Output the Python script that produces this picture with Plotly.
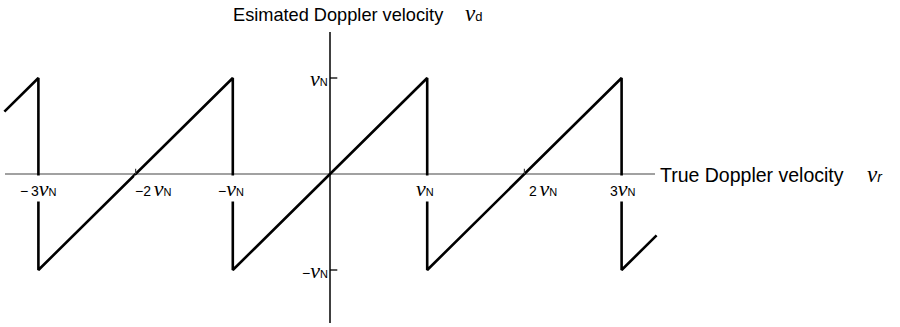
import plotly.graph_objects as go

# Sawtooth breakpoints of estimated vs. true Doppler velocity (units of v_N)
true_v = [-3.35, -3, -3, -1, -1, 1, 1, 3, 3, 3.36]
est_v = [0.65, 1, -1, 1, -1, 1, -1, 1, -1, -0.64]

# Tick positions and labels
x_ticks = [-3, -2, -1, 1, 2, 3]
x_tick_labels = ["−&#8201;3", "−2&#8201;", "−", "", "2&#8201;", "3"]
y_ticks = [1, -1]
y_tick_labels = ["", "−"]

X0, X1 = -330 / 97.2, 570 / 97.2
Y0, Y1 = -153 / 96.0, 174 / 96.0

SANS = "Liberation Sans, Arial, sans-serif"


def vsym(size):
    return f"<span style='font-family:Liberation Serif;font-size:{size}px'><i>v</i></span>"


def small(t, size, italic=False):
    inner = f"<i>{t}</i>" if italic else t
    return f"<span style='font-size:{size}px'>{inner}</span>"


fig = go.Figure()

fig.add_trace(go.Scatter(
    x=true_v, y=est_v, mode="lines",
    line=dict(color="black", width=2.6),
    hoverinfo="skip", showlegend=False,
))

shapes = [
    # horizontal axis
    dict(type="line", xref="x", yref="y", x0=-3.344, x1=3.344, y0=0, y1=0,
         line=dict(color="#444444", width=1.2), layer="below"),
    # vertical axis
    dict(type="line", xref="x", yref="y", x0=0, x1=0, y0=-1.552, y1=1.479,
         line=dict(color="black", width=1.5), layer="below"),
]
# small ticks on the x axis where no jump line passes
for t in [-2, 2]:
    shapes.append(dict(type="line", xref="x", yref="y", x0=t, x1=t, y0=0, y1=0.055,
                       line=dict(color="#444444", width=1.2)))
# ticks on the y axis
for t in y_ticks:
    shapes.append(dict(type="line", xref="x", yref="y", x0=0, x1=0.075, y0=t, y1=t,
                       line=dict(color="black", width=1.3)))

annotations = []
font = dict(family=SANS, size=14, color="black")
xshift = {-3: 0, -2: 18, -1: -2, 1: -2, 2: 19, 3: 1}
for t, lab in zip(x_ticks, x_tick_labels):
    annotations.append(dict(
        x=t, y=0, xref="x", yref="y", text=lab + vsym(22) + small("N", 11),
        showarrow=False, xanchor="center", yanchor="top", yshift=-1, xshift=xshift[t],
        font=font, bgcolor="white", borderpad=0,
    ))
for t, lab in zip(y_ticks, y_tick_labels):
    annotations.append(dict(
        x=0, y=t, xref="x", yref="y", text=lab + vsym(22) + small("N", 11),
        showarrow=False, xanchor="right", yanchor="middle", xshift=-1,
        font=font, borderpad=0,
    ))

# axis titles
annotations.append(dict(
    x=3.344, y=0, xref="x", yref="y", xanchor="left", yanchor="middle", xshift=3,
    text="True Doppler velocity&#8195;&#8201;" + vsym(23) + small("r", 14, italic=True),
    showarrow=False, font=dict(family=SANS, size=19.5, color="black"),
))
annotations.append(dict(
    x=0.33, y=1.48, xref="x", yref="y", xanchor="center", yanchor="bottom",
    yshift=4, xshift=-4,
    text="Esimated Doppler velocity&#8195;&#8201;" + vsym(23) + small("d", 13),
    showarrow=False, font=dict(family=SANS, size=18.2, color="black"),
))

fig.update_layout(
    width=900, height=327,
    margin=dict(l=0, r=0, t=0, b=0),
    paper_bgcolor="white", plot_bgcolor="white",
    xaxis=dict(range=[X0, X1], visible=False, fixedrange=True),
    yaxis=dict(range=[Y0, Y1], visible=False, fixedrange=True),
    shapes=shapes, annotations=annotations,
    showlegend=False,
)

fig.write_html("out.html")
